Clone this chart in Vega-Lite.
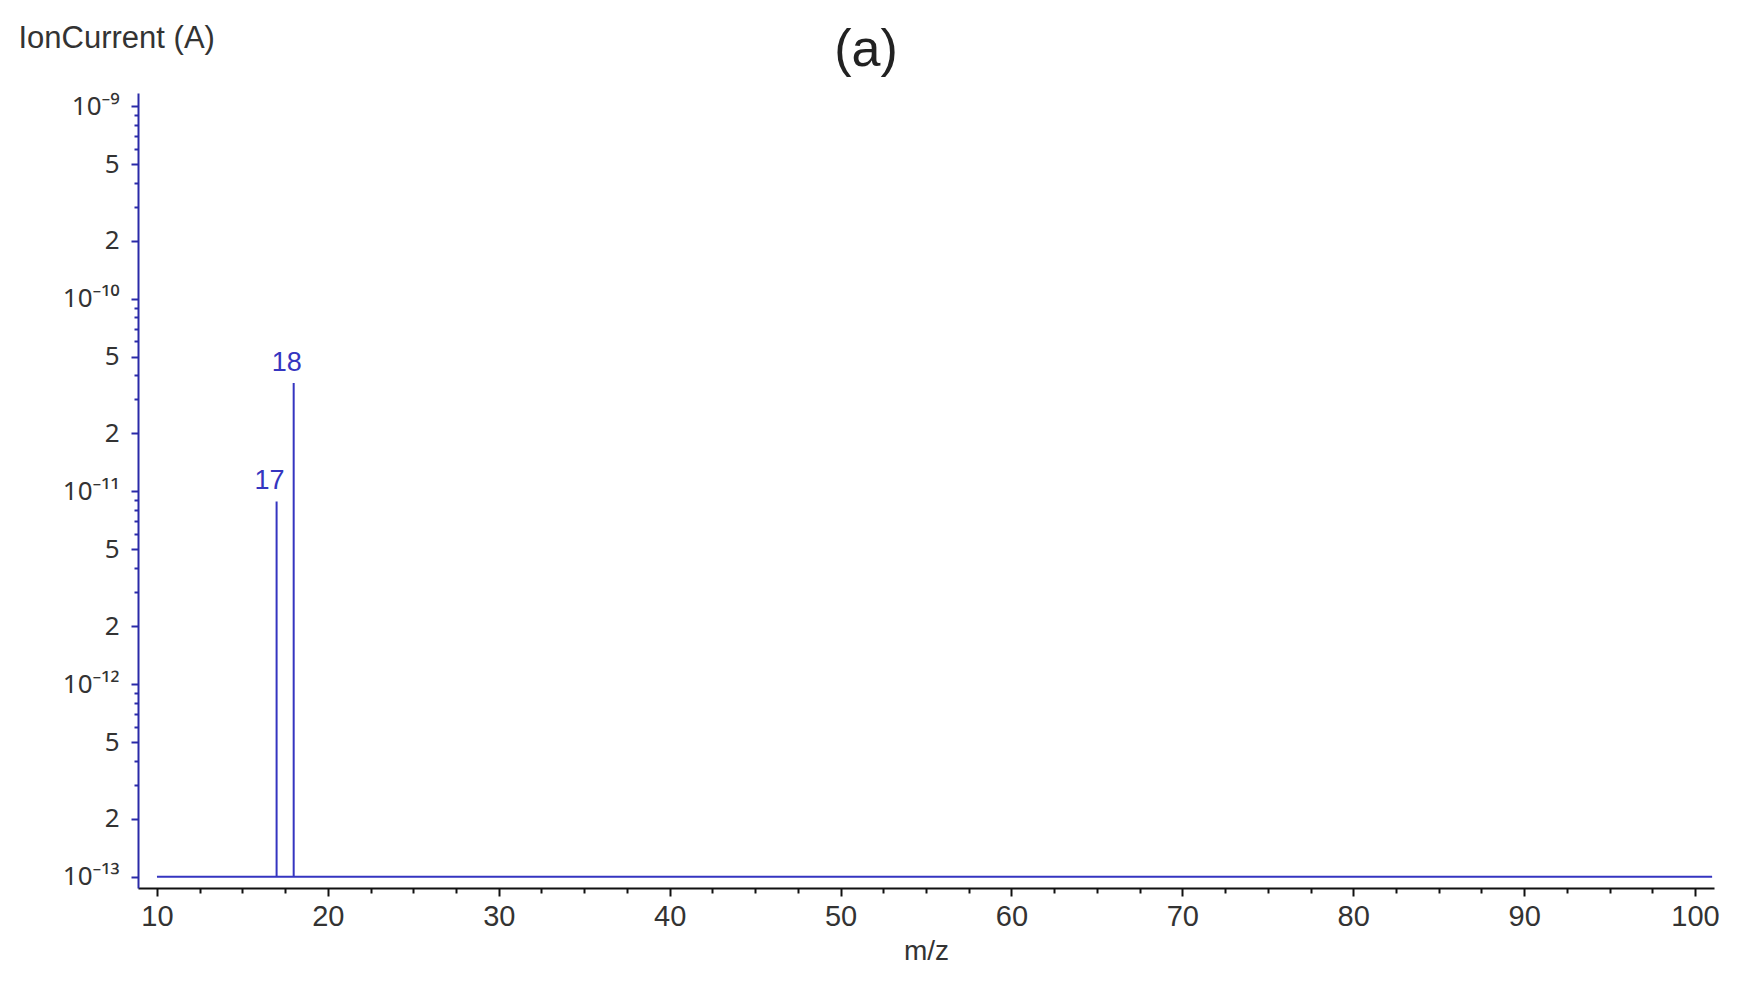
{
  "$schema": "https://vega.github.io/schema/vega-lite/v6.json",
  "width": 1576,
  "height": 795,
  "autosize": {"type": "none"},
  "padding": {"left": 138, "top": 93, "right": 26, "bottom": 103},
  "background": "white",
  "config": {"view": {"stroke": null}, "font": "Liberation Sans", "axis": {"grid": false}},
  "title": {"text": "(a)", "fontSize": 52, "fontWeight": "normal", "color": "#222", "anchor": "middle", "frame": "group", "dx": -60, "offset": -96, "baseline": "alphabetic"},
  "datasets": {
    "baseline": [{"mz_start": 10, "mz_end": 101, "current": 1e-13}],
    "peaks": [
      {"mz": 17, "current": 8.87e-12, "label": "17"},
      {"mz": 18, "current": 3.65e-11, "label": "18"}
    ]
  },
  "layer": [
    {
      "data": {"name": "baseline"},
      "mark": {"type": "rule", "color": "#3535c0", "strokeWidth": 2},
      "encoding": {
        "x": {"field": "mz_start", "type": "quantitative",
          "scale": {"domain": [8.89, 101.11], "nice": false, "zero": false},
          "axis": {"orient": "bottom", "title": "m/z", "values": [10, 20, 30, 40, 50, 60, 70, 80, 90, 100],
            "tickSize": 8, "tickWidth": 2, "tickColor": "#111", "domainColor": "#111", "domainWidth": 2,
            "labelFontSize": 29, "labelColor": "#333", "labelPadding": 6, "labelFlush": false, "labelOverlap": false, "labelBound": false,
            "titleFontSize": 28, "titleFontWeight": "normal", "titleColor": "#333", "titlePadding": 6}},
        "x2": {"field": "mz_end"},
        "y": {"field": "current", "type": "quantitative",
          "scale": {"type": "log", "domain": [8.735e-14, 1.1695e-9], "nice": false},
          "axis": {"orient": "left",
            "values": [1e-13, 2e-13, 5e-13, 1e-12, 2e-12, 5e-12, 1e-11, 2e-11, 5e-11, 1e-10, 2e-10, 5e-10, 1e-9],
            "tickSize": 7, "tickWidth": 2, "tickColor": "#2a2aa8", "domainColor": "#2a2aa8", "domainWidth": 2,
            "labelFont": "Noto Sans", "labelFontSize": 26, "labelColor": "#333", "labelPadding": 12, "labelOverlap": false, "labelBound": false, "labelFlush": false,
            "labelExpr": "abs(log(datum.value)/LN10 - round(log(datum.value)/LN10)) < 0.01 ? (round(log(datum.value)/LN10) == -9 ? '10⁻⁹' : round(log(datum.value)/LN10) == -10 ? '10⁻¹⁰' : round(log(datum.value)/LN10) == -11 ? '10⁻¹¹' : round(log(datum.value)/LN10) == -12 ? '10⁻¹²' : '10⁻¹³') : '' + round(datum.value / pow(10, floor(log(datum.value)/LN10 + 0.0001)))",
            "title": "IonCurrent (A)", "titleAngle": 0, "titleAlign": "left", "titleBaseline": "top",
            "titleX": -120, "titleY": -70, "titleFontSize": 31, "titleFontWeight": "normal", "titleColor": "#333"}}
      }
    },
    {
      "data": {"name": "peaks"},
      "mark": {"type": "rule", "color": "#3535c0", "strokeWidth": 2},
      "encoding": {
        "x": {"field": "mz", "type": "quantitative",
          "axis": {"orient": "bottom", "values": [12.5, 15, 17.5, 22.5, 25, 27.5, 32.5, 35, 37.5, 42.5, 45, 47.5, 52.5, 55, 57.5, 62.5, 65, 67.5, 72.5, 75, 77.5, 82.5, 85, 87.5, 92.5, 95, 97.5],
            "tickSize": 5, "tickWidth": 2, "tickColor": "#111", "domain": false, "labels": false, "title": null}},
        "y": {"field": "current", "type": "quantitative",
          "axis": {"orient": "left",
            "values": [3e-13, 4e-13, 6e-13, 7e-13, 8e-13, 9e-13, 3e-12, 4e-12, 6e-12, 7e-12, 8e-12, 9e-12, 3e-11, 4e-11, 6e-11, 7e-11, 8e-11, 9e-11, 3e-10, 4e-10, 6e-10, 7e-10, 8e-10, 9e-10],
            "tickSize": 4, "tickWidth": 2, "tickColor": "#2a2aa8", "domain": false, "labels": false, "title": null}},
        "y2": {"datum": 1e-13}
      }
    },
    {
      "data": {"name": "peaks"},
      "mark": {"type": "text", "color": "#3535c0", "fontSize": 27, "baseline": "alphabetic", "align": "center", "dx": -7, "dy": -12},
      "encoding": {
        "x": {"field": "mz", "type": "quantitative", "axis": null},
        "y": {"field": "current", "type": "quantitative", "axis": null},
        "text": {"field": "label"}
      }
    }
  ],
  "resolve": {"axis": {"x": "independent", "y": "independent"}}
}
